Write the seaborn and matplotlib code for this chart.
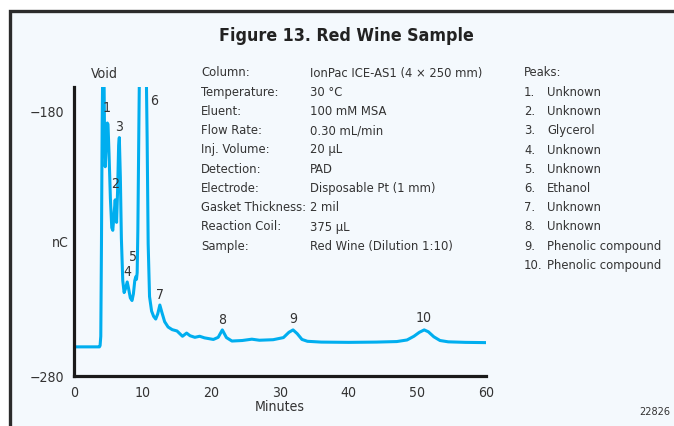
import matplotlib
matplotlib.use("Agg")
import matplotlib.pyplot as plt
from matplotlib import font_manager as fm
from matplotlib.patches import Rectangle
import seaborn as sns
import pandas as pd

# Chromatogram trace: retention time (min) and detector response (nC)
minutes = [0.0, 3.7, 3.8, 3.9, 4.0, 4.1, 4.2, 4.35, 4.45, 4.55, 4.7, 4.85, 4.95,
           5.1, 5.3, 5.5, 5.65, 5.8, 6.0, 6.1, 6.2, 6.35, 6.5, 6.6, 6.75, 6.9,
           7.1, 7.3, 7.5, 7.75, 7.95, 8.2, 8.45, 8.65, 8.85, 9.0, 9.1, 9.2, 9.3,
           9.45, 9.55, 10.5, 10.65, 10.8, 11.0, 11.3, 11.6, 11.9, 12.2, 12.5,
           12.8, 13.2, 13.7, 14.3, 15.0, 15.4, 15.8, 16.4, 16.9, 17.6, 18.3,
           19.0, 20.3, 21.0, 21.6, 22.2, 23.0, 24.5, 25.9, 27.0, 29.0, 30.5,
           31.3, 31.9, 32.5, 33.2, 34.0, 36.0, 40.0, 44.0, 47.0, 48.5, 49.5,
           50.3, 51.0, 51.6, 52.4, 53.3, 54.5, 57.0, 60.0]
signal_nc = [-269.0, -269.0, -268.5, -265.0, -230.0, -185.0, -160.0, -160.0,
             -190.0, -201.0, -192.0, -184.5, -185.0, -196.0, -213.0, -224.0,
             -225.0, -220.0, -213.5, -218.0, -222.0, -210.0, -193.0, -190.0,
             -205.0, -228.0, -244.0, -248.5, -247.0, -244.5, -247.0, -250.5,
             -251.5, -249.0, -244.0, -242.5, -243.5, -241.0, -225.0, -185.0,
             -160.0, -160.0, -190.0, -230.0, -250.0, -255.5, -257.5, -258.5,
             -256.5, -253.2, -256.0, -259.5, -261.5, -262.5, -263.0, -264.0,
             -265.0, -263.8, -264.8, -265.4, -265.0, -265.6, -266.2, -265.4,
             -262.6, -265.5, -266.8, -266.6, -266.1, -266.5, -266.3, -265.5,
             -263.5, -262.6, -264.0, -266.2, -266.9, -267.2, -267.3, -267.2,
             -267.0, -266.4, -265.0, -263.5, -262.6, -263.3, -265.2, -266.6,
             -267.1, -267.3, -267.4]

peak_labels = ["Void", "1", "2", "3", "4", "5", "6", "7", "8", "9", "10"]
peak_label_x = [4.37, 4.8, 5.97, 6.55, 7.72, 8.59, 11.65, 12.52, 21.55, 31.9, 50.97]
peak_label_y = [-166.0, -178.9, -207.5, -186.0, -240.8, -235.1, -176.2, -249.4,
                -258.9, -258.5, -258.1]

condition_names = ["Column:", "Temperature:", "Eluent:", "Flow Rate:", "Inj. Volume:",
                   "Detection:", "Electrode:", "Gasket Thickness:", "Reaction Coil:",
                   "Sample:"]
condition_values = ["IonPac ICE-AS1 (4 \u00d7 250 mm)", "30 \u00b0C", "100 mM MSA",
                    "0.30 mL/min", "20 \u00b5L", "PAD", "Disposable Pt (1 mm)",
                    "2 mil", "375 \u00b5L", "Red Wine (Dilution 1:10)"]
peak_names = ["Unknown", "Unknown", "Glycerol", "Unknown", "Unknown", "Ethanol",
              "Unknown", "Unknown", "Phenolic compound", "Phenolic compound"]

x_ticks = [0, 10, 20, 30, 40, 50, 60]
y_ticks = [-180, -280]

sns.set_theme(style="white")

# Prefer a narrow sans face; fall back to the narrowest installed regular face
installed = {(f.name, str(f.stretch)) for f in fm.fontManager.ttflist}
names_only = {n for n, _ in installed}
if "Liberation Sans Narrow" in names_only:
    FAMILY, STRETCH, SCALE = "Liberation Sans Narrow", "normal", 1.0
elif any(n == "DejaVu Sans" and s in ("condensed", "semi-condensed", "75", "87")
         for n, s in installed):
    FAMILY, STRETCH, SCALE = "DejaVu Sans", "condensed", 0.92
else:
    FAMILY, STRETCH, SCALE = "Roboto", "normal", 0.86
plt.rcParams["font.family"] = [FAMILY, "DejaVu Sans"]
plt.rcParams["font.stretch"] = STRETCH

TEXT = "#333333"
LINE = "#00AEEF"
BG = "#F4F9FD"

W, H = 674, 426
fig = plt.figure(figsize=(W / 100, H / 100), dpi=100)
fig.patch.set_facecolor("white")

# Panel frame: dark rule on left and top, light fill
fig.patches.append(Rectangle((9.5 / W, -0.05), 1.2, (H - 11) / H + 0.05,
                             transform=fig.transFigure, facecolor=BG,
                             edgecolor="#2b2b2b", lw=2.4, zorder=-5))

ax = fig.add_axes([74 / W, 1 - 376 / H, 412 / W, (376 - 87) / H])
ax.set_facecolor("none")

df = pd.DataFrame({"Minutes": minutes, "nC": signal_nc})
sns.lineplot(data=df, x="Minutes", y="nC", ax=ax, color=LINE, lw=2.2,
             estimator=None, sort=False)

fs = 11 * SCALE
ax.set_xlim(0, 60)
ax.set_ylim(-280, -170.9)
ax.set_xticks(x_ticks)
ax.set_yticks(y_ticks)
ax.set_yticklabels(["\u2212180", "\u2212280"])
for s in ["top", "right"]:
    ax.spines[s].set_visible(False)
for s in ["left", "bottom"]:
    ax.spines[s].set_color("#1a1a1a")
    ax.spines[s].set_linewidth(2.3)
ax.tick_params(axis="both", direction="out", length=5, width=2.1, color="#1a1a1a",
               labelsize=fs, labelcolor=TEXT, pad=2)
ax.set_xlabel("Minutes", fontsize=fs, color=TEXT, labelpad=0)
ax.set_ylabel("")
fig.text(60 / W, 1 - 243 / H, "nC", fontsize=fs, color=TEXT, ha="center", va="center")

for lab, lx, ly in zip(peak_labels, peak_label_x, peak_label_y):
    ax.text(lx, ly, lab, fontsize=fs, color=TEXT, ha="center", va="center", clip_on=False)

fig.text(346 / W, 1 - 36 / H, "Figure 13. Red Wine Sample", fontsize=13.9 * SCALE,
         fontweight="bold", color="#222222", ha="center", va="center")

row0, step = 73, 19.25
tfs = 10.1 * SCALE
for i, (n, v) in enumerate(zip(condition_names, condition_values)):
    yy = 1 - (row0 + i * step) / H
    fig.text(201 / W, yy, n, fontsize=tfs, color=TEXT, ha="left", va="center")
    fig.text(310 / W, yy, v, fontsize=tfs, color=TEXT, ha="left", va="center")

fig.text(524 / W, 1 - row0 / H, "Peaks:", fontsize=tfs, color=TEXT, ha="left", va="center")
for i, name in enumerate(peak_names):
    yy = 1 - (row0 + (i + 1) * step) / H
    fig.text(524 / W, yy, f"{i + 1}.", fontsize=tfs, color=TEXT, ha="left", va="center")
    fig.text(547 / W, yy, name, fontsize=tfs, color=TEXT, ha="left", va="center")

fig.text(670 / W, 1 - 412 / H, "22826", fontsize=8.5 * SCALE, color=TEXT,
         ha="right", va="center")

fig.savefig("out.png", dpi=100, facecolor=fig.get_facecolor())
